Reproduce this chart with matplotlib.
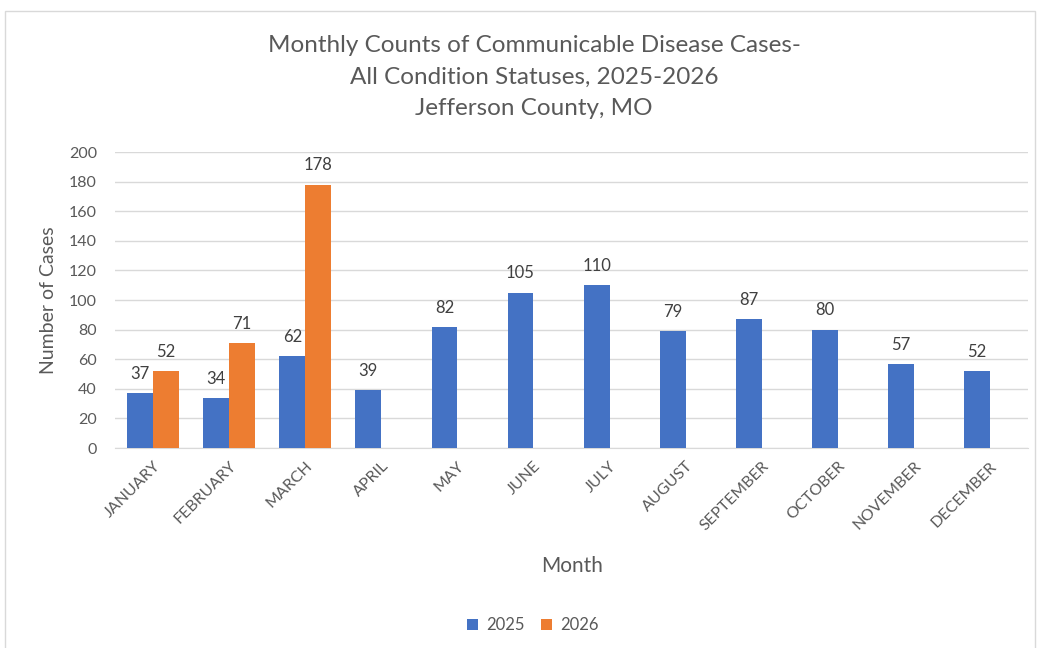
import matplotlib
matplotlib.use("Agg")
import matplotlib.pyplot as plt
from matplotlib.patches import Rectangle
import numpy as np

months = ["JANUARY", "FEBRUARY", "MARCH", "APRIL", "MAY", "JUNE", "JULY",
          "AUGUST", "SEPTEMBER", "OCTOBER", "NOVEMBER", "DECEMBER"]
cases_2025 = [37, 34, 62, 39, 82, 105, 110, 79, 87, 80, 57, 52]
cases_2026 = [52, 71, 178, None, None, None, None, None, None, None, None, None]
series_names = ["2025", "2026"]
yticks = [0, 20, 40, 60, 80, 100, 120, 140, 160, 180, 200]

plt.rcParams['font.family'] = ['Lato', 'DejaVu Sans']
txt = '#595959'
blue = '#4472C4'
orange = '#ED7D31'

W, H = 1039, 648
fig = plt.figure(figsize=(W / 100, H / 100), dpi=100)
fig.patch.set_facecolor('white')

# chart border
fig.patches.append(Rectangle((5 / W, -0.05), (1035 - 5) / W, (H - 11) / H + 0.05,
                             transform=fig.transFigure, fill=False,
                             edgecolor='#D9D9D9', linewidth=1.0))

ax = fig.add_axes([115 / W, 1 - 448 / H, (1028 - 115) / W, (448 - 152) / H])
x = np.arange(len(months))
w = 0.34
v25 = np.array(cases_2025, dtype=float)
v26 = np.array([np.nan if v is None else v for v in cases_2026], dtype=float)
b1 = ax.bar(x - w / 2, v25, w, color=blue, label=series_names[0], zorder=3)
mask = ~np.isnan(v26)
b2 = ax.bar(x[mask] + w / 2, v26[mask], w, color=orange, label=series_names[1], zorder=3)

for xi, v in zip(x - w / 2, v25):
    ax.annotate(f"{int(v)}", (xi, v), xytext=(0, 8), textcoords='offset points',
                ha='center', va='bottom', fontsize=12, color='#404040')
for xi, v in zip((x + w / 2)[mask], v26[mask]):
    ax.annotate(f"{int(v)}", (xi, v), xytext=(0, 8), textcoords='offset points',
                ha='center', va='bottom', fontsize=12, color='#404040')

ax.set_xlim(-0.5, len(months) - 0.5)
ax.set_ylim(0, 200)
ax.set_yticks(yticks)
ax.set_yticklabels([str(t) for t in yticks], fontsize=11.5, color=txt)
ax.set_xticks(x)
ax.set_xticklabels(months, rotation=45, ha='right', rotation_mode='anchor',
                   fontsize=11.5, color=txt)
ax.tick_params(axis='both', length=0)
ax.tick_params(axis='y', pad=13)
ax.tick_params(axis='x', pad=8)
ax.grid(axis='y', color='#D9D9D9', linewidth=1.0, zorder=0)
for s in ['top', 'right', 'left']:
    ax.spines[s].set_visible(False)
ax.spines['bottom'].set_color('#D9D9D9')

ax.set_ylabel("Number of Cases", fontsize=14, color=txt)
ax.yaxis.set_label_coords(-(115 - 57) / (1028 - 115), 0.5)
fig.text(572 / W, 1 - 566 / H, "Month", ha='center', va='center', fontsize=15, color=txt)

fig.text(534 / W, 1 - 77 / H,
         "Monthly Counts of Communicable Disease Cases-\nAll Condition Statuses, 2025-2026\nJefferson County, MO",
         ha='center', va='center', fontsize=17.5, color=txt, linespacing=1.6)

leg = fig.legend(handles=[b1, b2], labels=series_names, loc='center',
                 bbox_to_anchor=(533 / W, 1 - 625 / H), ncol=2, frameon=False,
                 fontsize=12, handlelength=0.65, handleheight=0.65,
                 handletextpad=0.5, columnspacing=1.0)
for t in leg.get_texts():
    t.set_color(txt)

fig.savefig("out.png", dpi=100)
